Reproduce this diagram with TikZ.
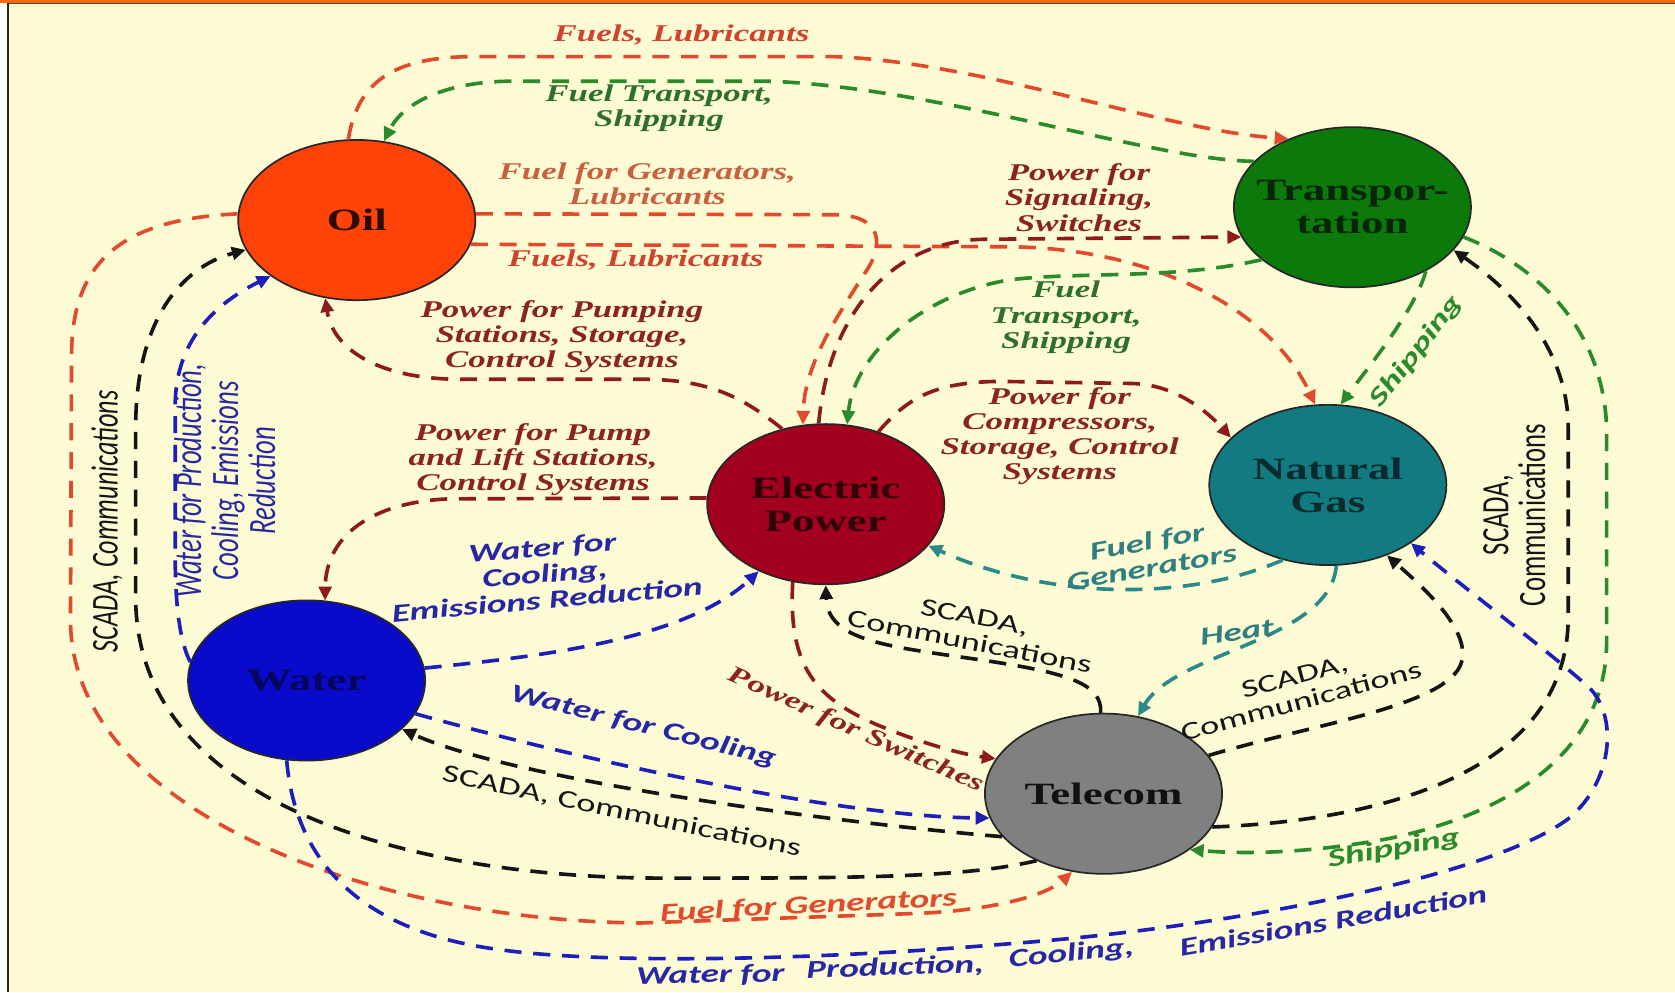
\documentclass[tikz,border=0pt]{standalone}
\usepackage{fontspec}
\usepackage{graphicx}
\setmainfont{Liberation Serif}
\newfontfamily\serS[FakeStretch=1.45]{Liberation Serif}
\newfontfamily\sanS[FakeStretch=1.45]{Carlito}
\newfontfamily\sanN{Carlito}
\usetikzlibrary{shapes.geometric,arrows.meta}
\definecolor{bgc}{HTML}{FDFBD4}
\definecolor{barc}{HTML}{FF6A00}
\definecolor{barline}{HTML}{505050}
\definecolor{oilc}{HTML}{FF4208}
\definecolor{trc}{HTML}{0B7A0B}
\definecolor{elc}{HTML}{A3001F}
\definecolor{ngc}{HTML}{127B82}
\definecolor{wac}{HTML}{0A0ACA}
\definecolor{tec}{HTML}{808080}
\definecolor{oilt}{HTML}{2A0C00}
\definecolor{trt}{HTML}{062406}
\definecolor{elt}{HTML}{2E0008}
\definecolor{ngt}{HTML}{0A2A2D}
\definecolor{wat}{HTML}{06065A}
\definecolor{tet}{HTML}{111111}
\definecolor{cred}{HTML}{E24A2E}
\definecolor{lred}{HTML}{D0412E}
\definecolor{lorange}{HTML}{C9603F}
\definecolor{cdred}{HTML}{8E1B1B}
\definecolor{ldred}{HTML}{8B2323}
\definecolor{cgreen}{HTML}{2B8A2B}
\definecolor{lgreen}{HTML}{2E6E2E}
\definecolor{cteal}{HTML}{2A8A8A}
\definecolor{lteal}{HTML}{2F7F80}
\definecolor{cblue}{HTML}{1E1EB8}
\definecolor{lblue}{HTML}{2727A5}
\definecolor{cblack}{HTML}{151515}
\tikzset{
  nd/.style={ellipse, draw=black!85, line width=1.6pt, minimum width=222pt, minimum height=150pt, inner sep=0pt},
  ntx/.style={font=\fontsize{29}{31}\serS\bfseries, align=center, inner sep=0pt},
  ln/.style={line width=3.4pt, dash pattern=on 16pt off 11pt, -{Triangle[length=13pt,width=12pt]}},
  slab/.style={font=\fontsize{22.5}{23.5}\serS\bfseries\itshape, align=center, inner sep=0pt},
  klab/.style={font=\fontsize{24}{24.5}\sanS\bfseries\itshape, align=center, inner sep=0pt},
  blab/.style={font=\fontsize{23.5}{24}\sanS, align=center, inner sep=0pt, text=cblack},
  vlab/.style={rotate=90, inner sep=0pt}
}
\begin{document}
\begin{tikzpicture}[x=1pt,y=-1pt]
\useasboundingbox (0,0) rectangle (1568,929);
\fill[white] (0,0) rectangle (1568,929);
\fill[bgc] (8.5,4) rectangle (1568,929);
\fill[barc] (0,0) rectangle (1568,3);
\fill[barline] (6.5,3) rectangle (1568,4);
\fill[black!85] (6.5,3) rectangle (8.7,929);

% nodes
\node[nd, fill=oilc, label={[ntx,text=oilt]center:Oil}] (o) at (334,206) {};
\node[nd, fill=trc, label={[ntx,text=trt]center:{Transpor-\\tation}}] (t) at (1266,194) {};
\node[nd, fill=elc, label={[ntx,text=elt]center:{Electric\\Power}}] (e) at (773,472) {};
\node[nd, fill=ngc, label={[ntx,text=ngt]center:{Natural\\Gas}}] (n) at (1243,454) {};
\node[nd, fill=wac, label={[ntx,text=wat]center:Water}] (w) at (287,637) {};
\node[nd, fill=tec, label={[ntx,text=tet]center:Telecom}] (c) at (1033,743) {};

% Oil (red)
\draw[ln, cred] (o.96) .. controls (335,75) and (370,54) .. (440,53) -- (780,53) .. controls (920,58) and (1090,122) .. (t.133);
\draw[ln, cred] (o.3) -- (780,201) .. controls (825,201) and (830,228) .. (808,258) .. controls (785,295) and (753,340) .. (e.106);
\draw[ln, cred] (o.-12) -- (940,231) .. controls (1080,231) and (1190,290) .. (n.99);
\draw[ln, cred] (o.177) .. controls (120,205) and (68,240) .. (67,330) -- (66,580) .. controls (66,760) and (350,862) .. (600,864) -- (860,855) .. controls (930,852) and (980,838) .. (c.248);

% Transportation (green)
\draw[ln, cgreen] (t.155) .. controls (1080,150) and (880,82) .. (720,76) -- (480,76) .. controls (420,76) and (378,95) .. (o.71);
\draw[ln, cgreen] (t.210) .. controls (1100,262) and (1010,254) .. (945,262) .. controls (865,275) and (800,330) .. (e.75);
\draw[ln, cgreen] (t.-41) .. controls (1325,290) and (1280,345) .. (n.81);
\draw[ln, cgreen] (t.-15) .. controls (1430,245) and (1500,300) .. (1504,400) -- (1504,600) .. controls (1504,700) and (1420,760) .. (1300,785) .. controls (1230,798) and (1170,800) .. (c.-33);

% Electric power (dark red)
\draw[ln, cdred] (e.95) .. controls (775,300) and (830,226) .. (920,224) -- (t.195);
\draw[ln, cdred] (e.120) .. controls (695,372) and (665,355) .. (600,355) -- (430,355) .. controls (360,355) and (312,330) .. (o.248);
\draw[ln, cdred] (e.177) -- (420,467) .. controls (350,470) and (305,500) .. (w.77);
\draw[ln, cdred] (e.54) .. controls (850,372) and (875,358) .. (935,357) -- (1060,359) .. controls (1100,360) and (1130,385) .. (n.154);
\draw[ln, cdred] (e.247) .. controls (738,620) and (760,652) .. (820,678) .. controls (860,695) and (900,706) .. (c.162);

% Natural gas (teal)
\draw[ln, cteal] (n.239) .. controls (1120,560) and (990,565) .. (e.-22);
\draw[ln, cteal] (n.-84) .. controls (1245,600) and (1100,610) .. (c.66);

% Water (blue)
\draw[ln, cblue] (w.171) .. controls (168,600) and (164,565) .. (164,520) -- (164,380) .. controls (164,320) and (200,285) .. (o.213);
\draw[ln, cblue] (w.6) .. controls (500,615) and (640,600) .. (e.225);
\draw[ln, cblue] (w.-17) .. controls (520,705) and (780,765) .. (c.192);
\draw[ln, cblue] (w.256) .. controls (275,790) and (320,870) .. (468,889) .. controls (560,902) and (750,900) .. (950,883) .. controls (1150,868) and (1400,820) .. (1470,765) .. controls (1510,730) and (1515,670) .. (1487,643) .. controls (1450,610) and (1370,550) .. (n.-35);

% Telecom (black)
\draw[ln, cblack] (c.225) .. controls (900,822) and (800,822) .. (620,822) .. controls (400,822) and (128,760) .. (127,560) -- (127,400) .. controls (127,300) and (170,250) .. (o.195);
\draw[ln, cblack] (c.92) .. controls (1032,640) and (1000,630) .. (920,618) .. controls (830,605) and (775,600) .. (e.270);
\draw[ln, cblack] (c.20) .. controls (1230,678) and (1345,662) .. (1366,625) .. controls (1382,595) and (1335,552) .. (n.-50);
\draw[ln, cblack] (c.-17) .. controls (1300,768) and (1466,720) .. (1468,580) -- (1468,400) .. controls (1468,330) and (1420,275) .. (t.-23);
\draw[ln, cblack] (c.203) .. controls (780,770) and (480,730) .. (w.-27);

% serif labels
\node[slab, text=lred] (l1) at (638,33) {Fuels, Lubricants};
\node[slab, text=lgreen] (l2) at (617,101) {Fuel Transport,\\Shipping};
\node[slab, text=lorange] (l3) at (606,172) {Fuel for Generators,\\Lubricants};
\node[slab, text=lred] (l4) at (595,243) {Fuels, Lubricants};
\node[slab, text=ldred] (l5) at (1010,185) {Power for\\Signaling,\\Switches};
\node[slab, text=ldred] (l6) at (526,315) {Power for Pumping\\Stations, Storage,\\Control Systems};
\node[slab, text=lgreen] (l7) at (998,297) {Fuel\\Transport,\\Shipping};
\node[slab, text=ldred] (l8) at (499,430) {Power for Pump\\and Lift Stations,\\Control Systems};
\node[slab, text=ldred] (l9) at (992,408) {Power for\\Compressors,\\Storage, Control\\Systems};
\node[slab, text=ldred, rotate=-24] (l10) at (801,684) {Power for Switches};

% sans labels
\node[klab, text=cgreen, rotate=52] (l11) at (1326,329) {Shipping};
\node[klab, text=lblue, rotate=5] (l12) at (510,537) {Water for\\Cooling,\\Emissions Reduction};
\node[klab, text=lteal, rotate=10] (l13) at (1076,519) {Fuel for\\Generators};
\node[klab, text=lteal, rotate=8] (l14) at (1158,592) {Heat};
\node[klab, text=lblue, rotate=-14] (l15) at (602,680) {Water for Cooling};
\node[klab, text=cred, rotate=3] (l16) at (757,848) {Fuel for Generators};
\node[klab, text=cgreen, rotate=10] (l17) at (1305,795) {Shipping};
\node[klab, text=lblue, rotate=1] (l18) at (665,913) {Water for};
\node[klab, text=lblue, rotate=2] (l19) at (838,906) {Production,};
\node[klab, text=lblue, rotate=6] (l20) at (1003,893) {Cooling,};
\node[klab, text=lblue, rotate=10] (l21) at (1248,862) {Emissions Reduction};

\node[blab, rotate=-11] (l22) at (910,589) {SCADA,\\Communications};
\node[blab, rotate=15] (l23) at (1215,645) {SCADA,\\Communications};
\node[blab, rotate=-12] (l24) at (582,760) {SCADA, Communications};

% vertical labels
\node[vlab, text=cblack] (l25) at (100,488) {\scalebox{1}[1.45]{\fontsize{24.5}{24}\sanN\itshape SCADA, Communications}};
\node[vlab, text=lblue] (l26) at (215,450) {\scalebox{1}[1.45]{\fontsize{25}{21.5}\sanN\itshape\begin{tabular}{@{}c@{}}Water for Production,\\Cooling, Emissions\\Reduction\end{tabular}}};
\node[vlab, text=cblack] (l27) at (1422,482) {\scalebox{1}[1.45]{\fontsize{25}{21}\sanN\begin{tabular}{@{}c@{}}SCADA,\\Communications\end{tabular}}};
\end{tikzpicture}
\end{document}
